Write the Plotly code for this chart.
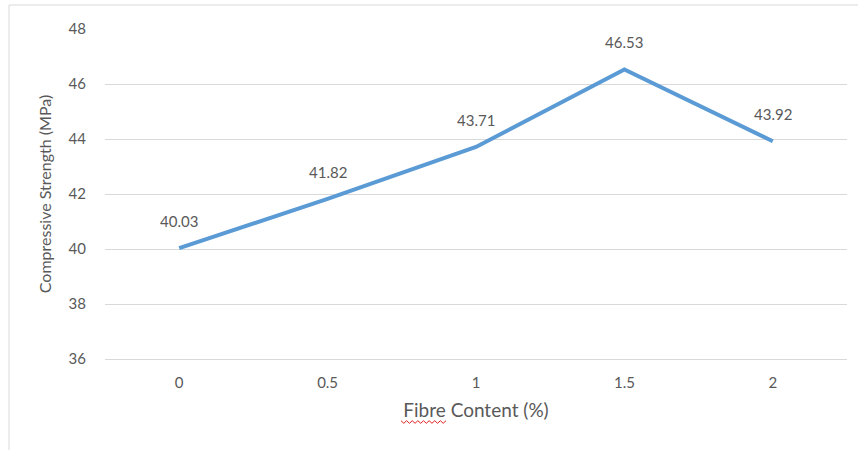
import plotly.graph_objects as go

# Compressive strength vs fibre content
fibre_content = ["0", "0.5", "1", "1.5", "2"]
strength_mpa = [40.03, 41.82, 43.71, 46.53, 43.92]
y_ticks = [36, 38, 40, 42, 44, 46, 48]

W, H = 858, 450
L, R, T, B = 105, 11, 29, 91
plot_w = W - L - R
plot_h = H - T - B

font_family = "Lato, 'Open Sans', sans-serif"
grey = "#595959"

fig = go.Figure()
fig.add_trace(go.Scatter(
    x=fibre_content,
    y=strength_mpa,
    mode="lines",
    line=dict(color="#5B9BD5", width=4),
    hoverinfo="x+y",
    showlegend=False,
))

# Value labels above each point (category index positions)
for i, yv in enumerate(strength_mpa):
    fig.add_annotation(
        x=i, y=yv, text=f"{yv:.2f}", showarrow=False,
        yanchor="bottom", yshift=16,
        font=dict(family=font_family, size=15, color=grey),
    )

def px_x(p):
    return (p - L) / plot_w

def px_y(p):
    return 1 - (p - T) / plot_h

# Chart area frame (left and top edges)
fig.add_shape(type="line", xref="paper", yref="paper",
              x0=px_x(9), x1=px_x(9), y0=px_y(5), y1=px_y(452),
              line=dict(color="#D9D9D9", width=1))
fig.add_shape(type="line", xref="paper", yref="paper",
              x0=px_x(9), x1=px_x(860), y0=px_y(5), y1=px_y(5),
              line=dict(color="#D9D9D9", width=1))

# Spell-check squiggle under "Fibre"
x0s, x1s, ys = 401, 446, 422
pts = []
n = 16
for i in range(n + 1):
    xp = x0s + (x1s - x0s) * i / n
    yp = ys + (1.3 if i % 2 else -1.3)
    pts.append((px_x(xp), px_y(yp)))
path = "M " + " L ".join(f"{a:.5f},{b:.5f}" for a, b in pts)
fig.add_shape(type="path", xref="paper", yref="paper", path=path,
              line=dict(color="#E02020", width=1))

fig.update_layout(
    width=W, height=H,
    margin=dict(l=L, r=R, t=T, b=B, pad=0),
    paper_bgcolor="white", plot_bgcolor="white",
    font=dict(family=font_family, size=15, color=grey),
    xaxis=dict(
        type="category", range=[-0.5, 4.5],
        showgrid=False, zeroline=False,
        showline=True, linecolor="#D9D9D9", linewidth=1, ticks="",
        ticklabelstandoff=10,
        tickfont=dict(size=15, color=grey),
        title=dict(text="Fibre Content (%)", font=dict(size=19, color=grey), standoff=13),
    ),
    yaxis=dict(
        range=[36, 48], tickvals=y_ticks,
        showgrid=True, gridcolor="#D9D9D9", gridwidth=1,
        zeroline=False, showline=False, ticks="",
        ticklabelstandoff=18,
        tickfont=dict(size=15, color=grey),
        title=dict(text="Compressive Strength (MPa)", font=dict(size=16, color=grey), standoff=12),
    ),
)

fig.write_html("out.html")
